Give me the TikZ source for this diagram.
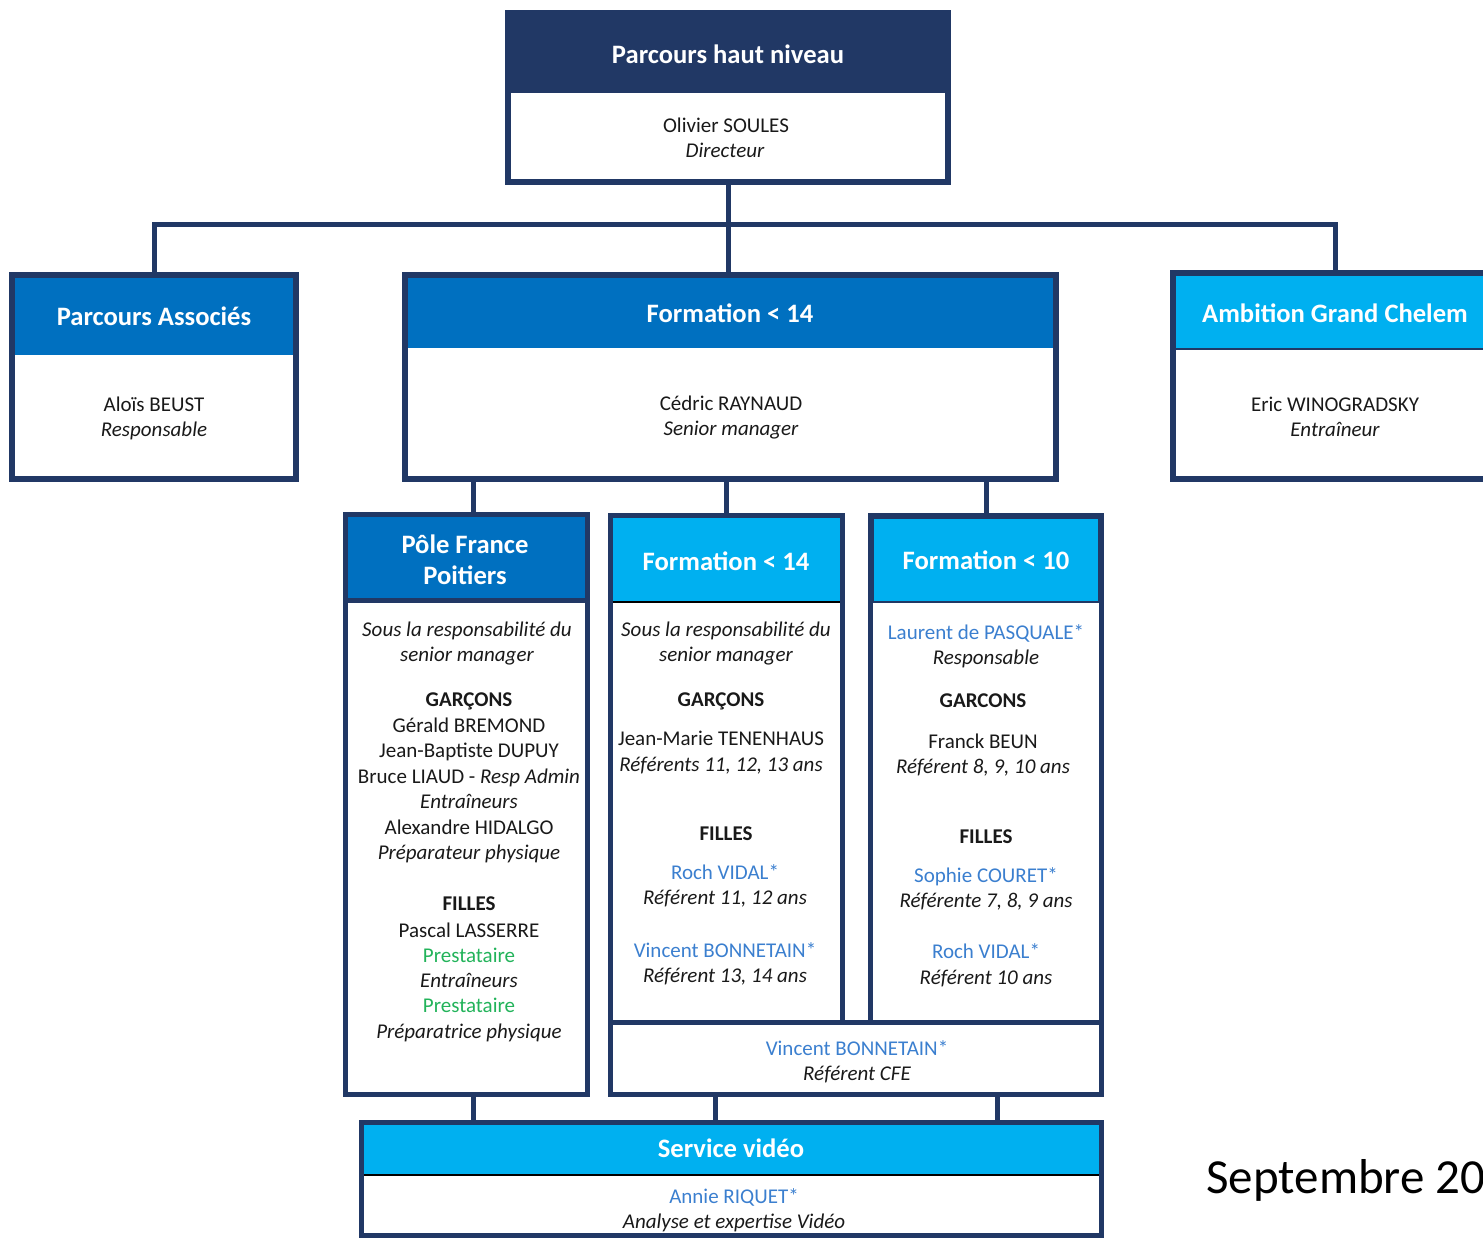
\documentclass[tikz,border=0pt]{standalone}
\usepackage{fontspec}
\setmainfont{Carlito}
\definecolor{navy}{HTML}{213865}
\definecolor{midblue}{HTML}{0070C0}
\definecolor{lightblue}{HTML}{00B0F0}
\definecolor{nameblue}{HTML}{3B7FCF}
\definecolor{presgreen}{HTML}{22B35A}
\newcommand\obox[6][]{%
  \node[box,#1,minimum width={(#5-#3)*0.5pt},minimum height={(#6-#4)*0.5pt}] (#2) at ({(#3+#5)/2},{(#4+#6)/2}) {};}
\newcommand\tline[4][txt]{\node[#1] (#2) at (#3) {#4};}
\begin{document}
\begin{tikzpicture}[x=0.5pt,y=-0.5pt,
  box/.style={draw=navy,line width=3pt,inner sep=0pt,outer sep=0pt,rectangle},
  sbox/.style={line width=2.5pt},
  conn/.style={draw=navy,line width=2.5pt},
  ttl/.style={text=white,font=\bfseries\fontsize{13.3}{15.5}\selectfont,align=center,inner sep=0pt},
  txt/.style={font=\fontsize{10.5}{12.5}\selectfont,anchor=mid,inner sep=0pt,text=black!90,yshift=-1.5pt},
  itx/.style={txt,font=\itshape\fontsize{10.5}{12.5}\selectfont},
  bld/.style={txt,font=\bfseries\fontsize{10.5}{12.5}\selectfont},
  blu/.style={txt,text=nameblue},
  grn/.style={txt,text=presgreen}]
\useasboundingbox (0,0) rectangle (1483,1238);

% ---- header fills ----
\fill[navy] (508,13) rectangle (948,93);
\fill[midblue] (12,275) rectangle (296,355);
\fill[midblue] (405,275) rectangle (1056,348);
\filldraw[fill=lightblue,draw=navy,line width=0.8pt] (1173,273) rectangle (1497,349);
\fill[midblue] (345.5,514.5) rectangle (587.5,600);
\draw[navy,line width=2.5pt] (345.5,600) -- (587.5,600);
\filldraw[fill=lightblue,draw=black,line width=0.7pt] (612,517) rectangle (841,602);
\filldraw[fill=lightblue,draw=navy,line width=0.8pt] (873,518) rectangle (1099,602);
\filldraw[fill=lightblue,draw=black,line width=0.7pt] (363,1123) rectangle (1100,1175);

% ---- boxes ----
\obox{top}{508}{13}{948}{182}
\obox{pa}{12}{275}{296}{479}
\obox{fb}{405}{275}{1056}{479}
\obox{agc}{1173}{273}{1497}{479}
\obox[sbox]{pf}{345.5}{514.5}{587.5}{1094.5}
\obox[sbox]{f14}{610.5}{515.5}{842.5}{1022.5}
\obox[sbox]{f10}{870.5}{515.5}{1101.5}{1022.5}
\obox[sbox]{cfe}{610.5}{1022.5}{1101.5}{1094.5}
\obox[sbox]{sv}{361.5}{1122.5}{1101.5}{1235.5}

% ---- connectors ----
\coordinate (j0) at (728,224);
\draw[conn] (top.south) -- (j0);
\draw[conn] (pa.north) |- (j0) -| (agc.north);
\draw[conn] (j0) -- (fb.north -| j0);
\coordinate (c473) at (473,500);
\coordinate (c715) at (715,1100);
\coordinate (c997) at (997,1100);
\draw[conn] (c473 |- fb.south) -- (c473 |- pf.north);
\draw[conn] (fb.south -| f14.north) -- (f14.north);
\draw[conn] (fb.south -| f10.north) -- (f10.north);
\draw[conn] (c473 |- pf.south) -- (c473 |- sv.north);
\draw[conn] (c715 |- cfe.south) -- (c715 |- sv.north);
\draw[conn] (c997 |- cfe.south) -- (c997 |- sv.north);

% ---- titles ----
\node[ttl] (t-top) at (728,54) {Parcours haut niveau};
\node[ttl] (t-pa) at (154,316) {Parcours Associés};
\node[ttl] (t-fb) at (730,313) {Formation < 14};
\node[ttl] (t-agc) at (1335,313) {Ambition Grand Chelem};
\node[ttl] (t-pf1) at (465,544) {Pôle France};
\node[ttl] (t-pf2) at (465,575) {Poitiers};
\node[ttl] (t-f14) at (726,561) {Formation < 14};
\node[ttl] (t-f10) at (986,560) {Formation < 10};
\node[ttl] (t-sv) at (731,1148) {Service vidéo};

% ---- top-level bodies ----
\tline{os}{726,125}{Olivier SOULES}
\tline[itx]{osr}{725,150}{Directeur}
\tline{ab}{154,404}{Aloïs BEUST}
\tline[itx]{abr}{154,429}{Responsable}
\tline{cr}{731,403}{Cédric RAYNAUD}
\tline[itx]{crr}{731,428}{Senior manager}
\tline{ew}{1335,404}{Eric WINOGRADSKY}
\tline[itx]{ewr}{1335,429}{Entraîneur}

% ---- Pole France ----
\tline[itx]{p1}{467,629}{Sous la responsabilité du}
\tline[itx]{p2}{467,654}{senior manager}
\tline[bld]{p3}{469,699}{GARÇONS}
\tline{p4}{469,725}{Gérald BREMOND}
\tline{p5}{469,750}{Jean-Baptiste DUPUY}
\tline{p6}{469,776}{Bruce LIAUD - \textit{Resp Admin}}
\tline[itx]{p7}{469,801}{Entraîneurs}
\tline{p8}{469,827}{Alexandre HIDALGO}
\tline[itx]{p9}{469,852}{Préparateur physique}
\tline[bld]{p10}{469,903}{FILLES}
\tline{p11}{469,930}{Pascal LASSERRE}
\tline[grn]{p12}{469,955}{Prestataire}
\tline[itx]{p13}{469,980}{Entraîneurs}
\tline[grn]{p14}{469,1005}{Prestataire}
\tline[itx]{p15}{469,1031}{Préparatrice physique}

% ---- Formation < 14 ----
\tline[itx]{a1}{726,629}{Sous la responsabilité du}
\tline[itx]{a2}{726,654}{senior manager}
\tline[bld]{a3}{721,699}{GARÇONS}
\tline{a4}{721,738}{Jean-Marie TENENHAUS}
\tline[itx]{a5}{721,764}{Référents 11, 12, 13 ans}
\tline[bld]{a6}{726,833}{FILLES}
\tline[blu]{a7}{725,872}{Roch VIDAL*}
\tline[itx]{a8}{725,897}{Référent 11, 12 ans}
\tline[blu]{a9}{725,950}{Vincent BONNETAIN*}
\tline[itx]{a10}{725,975}{Référent 13, 14 ans}

% ---- Formation < 10 ----
\tline[blu]{b1}{986,632}{Laurent de PASQUALE*}
\tline[itx]{b2}{986,657}{Responsable}
\tline[bld]{b3}{983,700}{GARCONS}
\tline{b4}{983,741}{Franck BEUN}
\tline[itx]{b5}{983,766}{Référent 8, 9, 10 ans}
\tline[bld]{b6}{986,836}{FILLES}
\tline[blu]{b7}{986,875}{Sophie COURET*}
\tline[itx]{b8}{986,900}{Référente 7, 8, 9 ans}
\tline[blu]{b9}{986,951}{Roch VIDAL*}
\tline[itx]{b10}{986,977}{Référent 10 ans}

% ---- CFE ----
\tline[blu]{c1}{857,1048}{Vincent BONNETAIN*}
\tline[itx]{c2}{857,1073}{Référent CFE}

% ---- Service video ----
\tline[blu]{s1}{734,1196}{Annie RIQUET*}
\tline[itx]{s2}{734,1221}{Analyse et expertise Vidéo}

% ---- date ----
\node[font=\fontsize{24.5}{29}\selectfont,anchor=base west,inner sep=0pt] (date) at (1206,1193) {Septembre 20};
\end{tikzpicture}
\end{document}
